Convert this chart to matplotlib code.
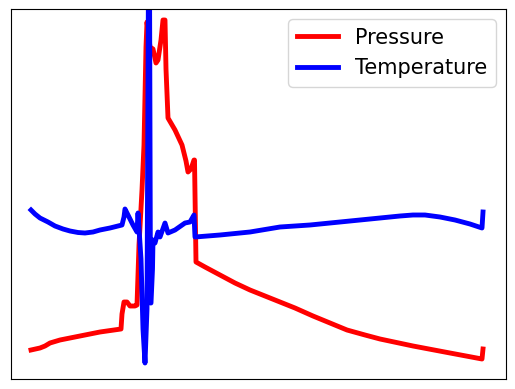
import matplotlib
matplotlib.use("Agg")
import matplotlib.pyplot as plt

# Pressure series (time, value)
pressure_t = [31, 40, 45, 50, 60, 80, 100, 121, 122, 124, 127, 130, 135, 137, 139, 142, 144, 146, 147,
              150, 153, 156, 158, 161, 163, 165, 166, 168, 175, 182, 186, 188, 191, 194, 194.5,
              196, 205, 220, 235, 250, 265, 280, 295, 313, 330, 347, 365, 380, 413, 450, 482, 483]
pressure_v = [39, 41, 43, 46, 49, 53, 57, 60, 75, 87, 87, 83, 83, 84, 144, 199, 244, 342, 367,
              342, 340, 326, 329, 349, 369, 369, 320, 271, 259, 244, 228, 217, 220, 229, 229,
              127, 122, 114, 106, 99, 93, 87, 81, 73, 66, 59, 54, 50, 43, 36, 30, 40]

# Temperature series (time, value)
temp_t = [31, 35, 40, 48, 55, 63, 70, 78, 85, 93, 100, 110, 122, 124, 125, 128, 133, 137, 138, 141,
          143, 145, 147, 148.5, 149.5, 150.5, 151, 152.5, 153, 155, 158, 160, 165, 168, 175, 185,
          190, 194, 195, 220, 250, 280, 310, 330, 350, 380, 400, 413, 425, 440, 455, 470, 482, 483]
temp_v = [179, 175, 171, 167, 163, 160, 158, 156.5, 156, 157, 159, 161, 164, 172, 180, 174, 164,
          157, 176, 130, 60, 26, 80, 420, 420, 86, 86, 120, 149, 146, 157, 152, 166, 156, 159, 166,
          167, 174, 152, 154, 157, 162, 164, 166, 168, 171, 173, 174, 174, 172, 169, 165, 161, 177]

fig = plt.figure(figsize=(5.15, 3.89), dpi=100)
ax = fig.add_axes([11 / 515, 10 / 389, 495 / 515, 370 / 389])
ax.plot(pressure_t, pressure_v, color="red", lw=3.5, label="Pressure")
ax.plot(temp_t, temp_v, color="blue", lw=3.5, label="Temperature")
ax.set_xlim(11, 506)
ax.set_ylim(10, 380)
ax.set_xticks([])
ax.set_yticks([])
ax.legend(loc="upper right", fontsize=15)
fig.savefig("out.png", dpi=100)
